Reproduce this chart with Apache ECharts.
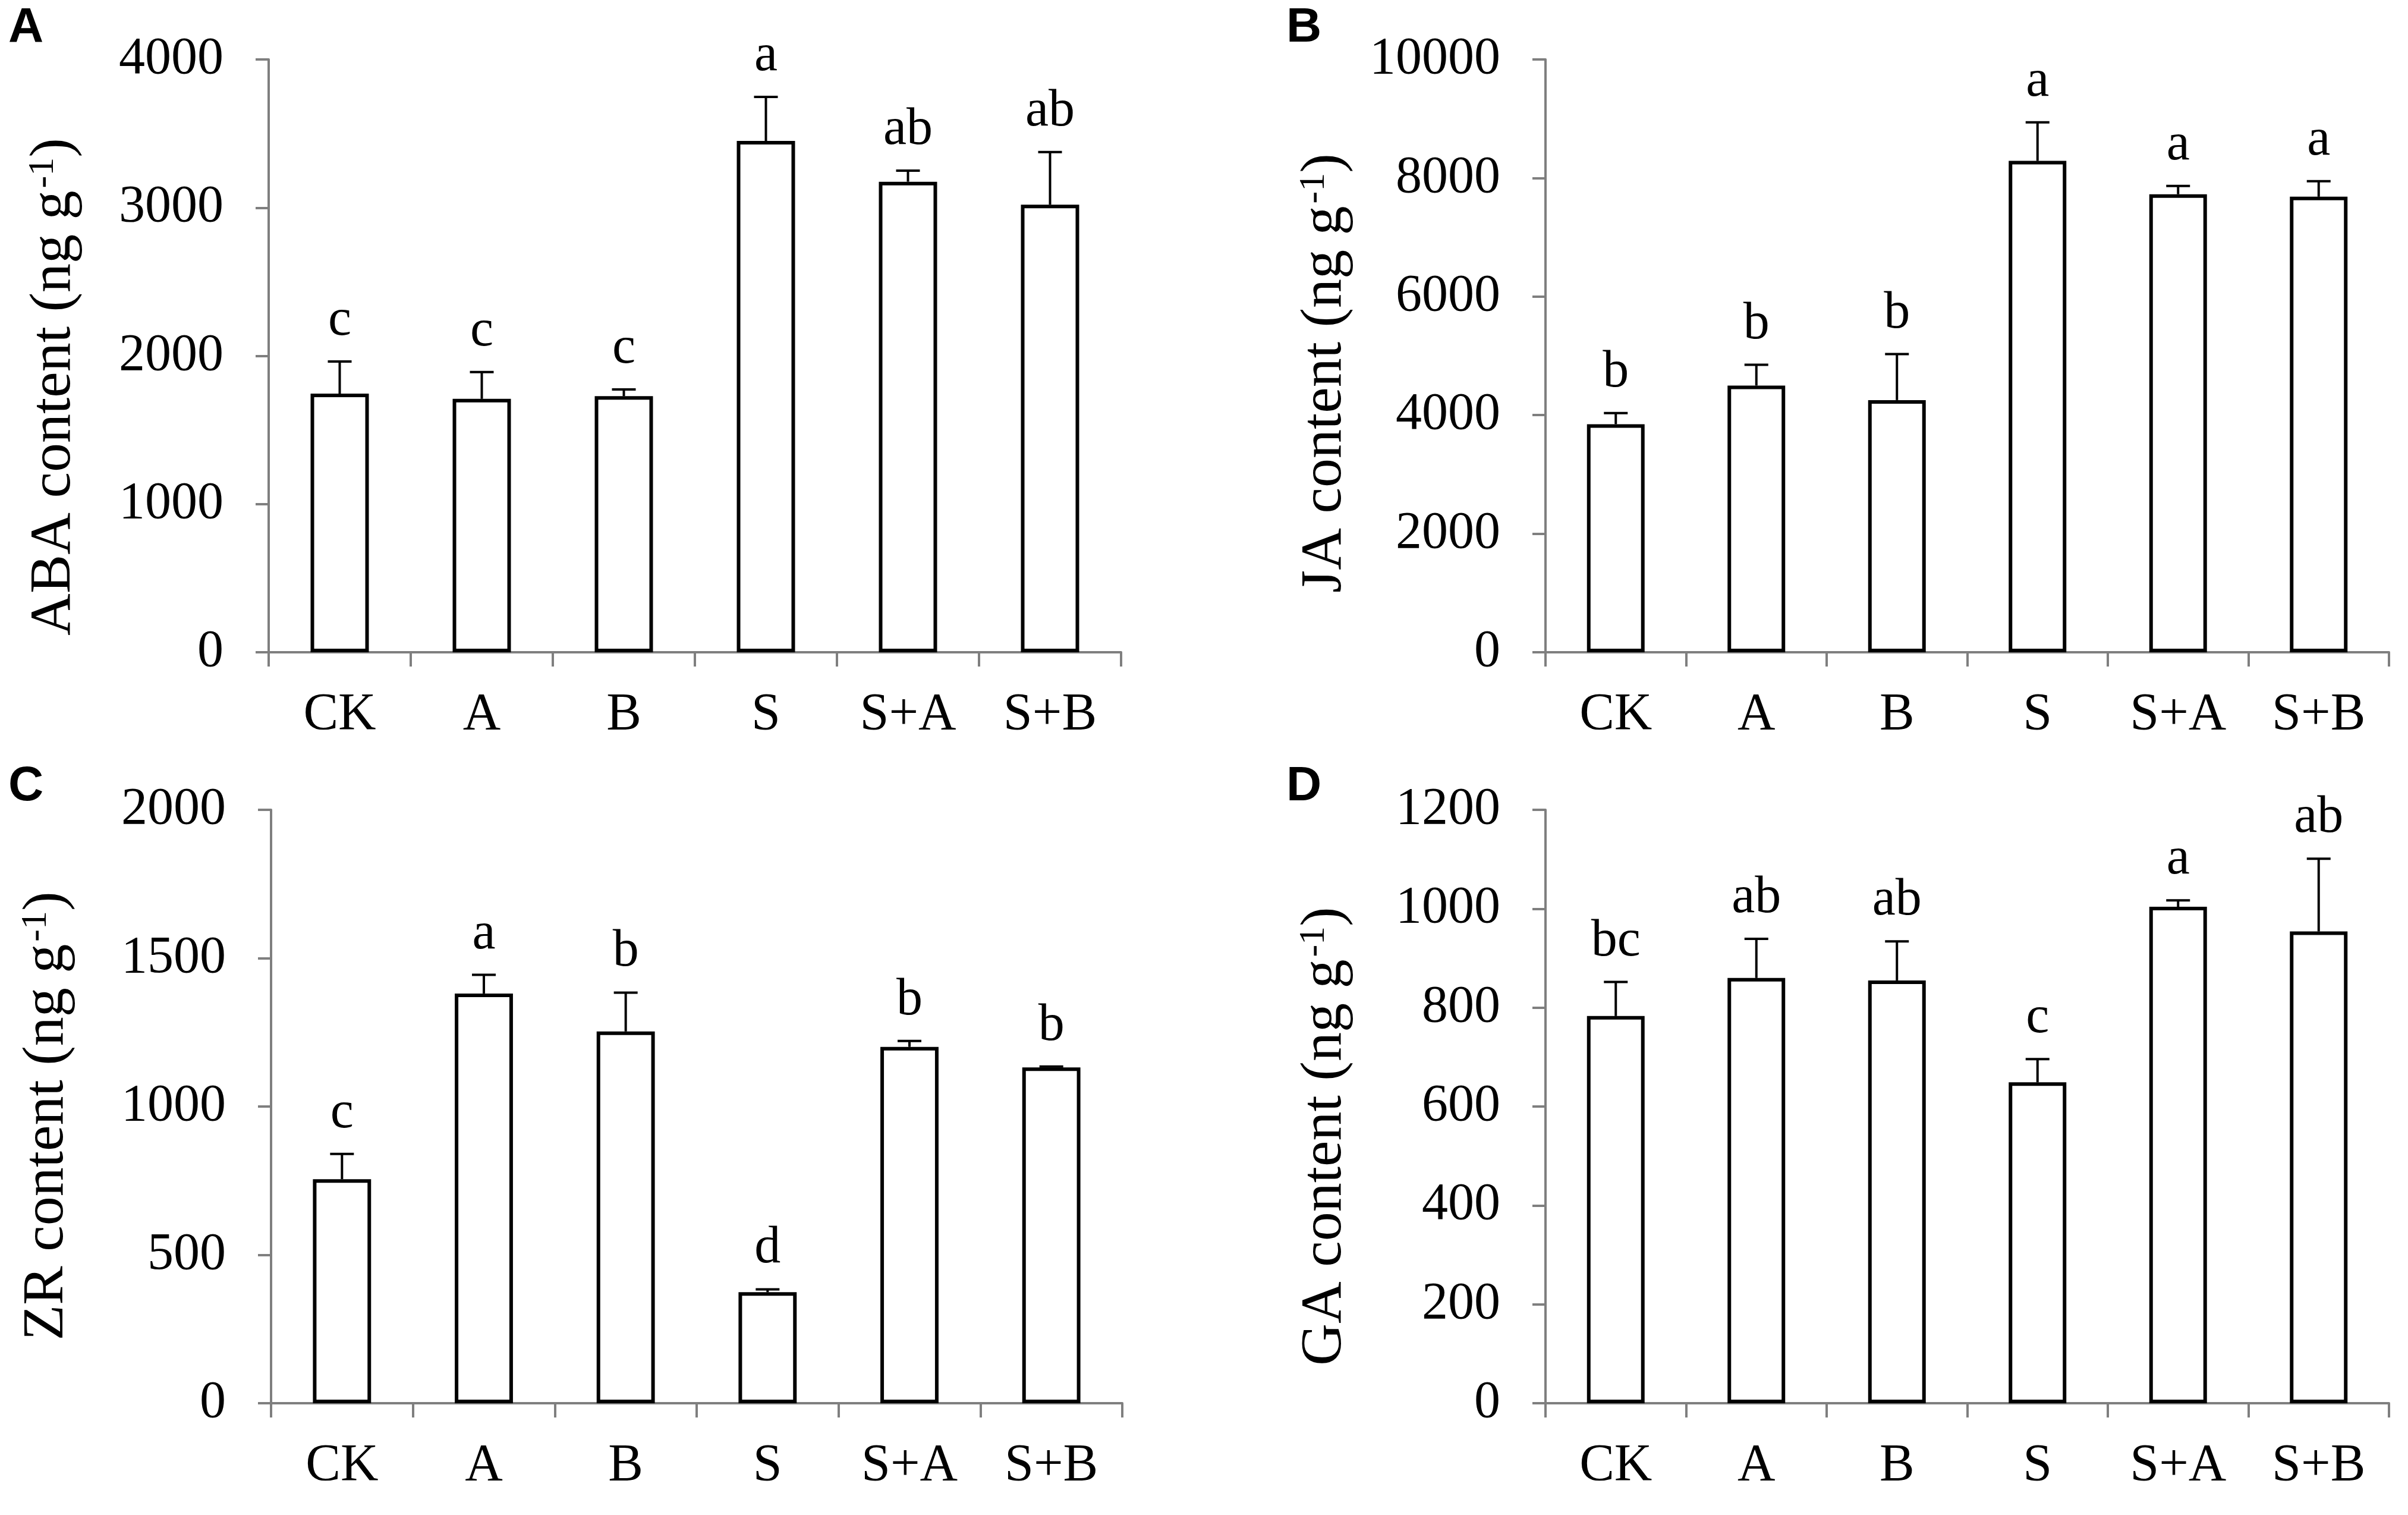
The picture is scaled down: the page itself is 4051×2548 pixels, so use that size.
<!DOCTYPE html>
<html>
<head>
<meta charset="utf-8">
<script src="https://cdn.jsdelivr.net/npm/echarts@6/dist/echarts.min.js"></script>
<style>
	html, body { margin: 0; padding: 0; background: #fff; }
	#main { width: 4051px; height: 2548px; }
</style>
</head>
<body>
<div id="main"></div>
<script>
// treatments
var categories = ['CK', 'A', 'B', 'S', 'S+A', 'S+B'];

// A: ABA
var abaMean = [1745, 1710, 1728, 3450, 3175, 3020];
var abaSd = [217, 181, 45, 297, 75, 355];
var abaLetters = ['c', 'c', 'c', 'a', 'ab', 'ab'];
// B: JA
var jaMean = [3847, 4499, 4254, 8289, 7726, 7685];
var jaSd = [187, 350, 775, 651, 139, 261];
var jaLetters = ['b', 'b', 'b', 'a', 'a', 'a'];
// C: ZR
var zrMean = [755, 1381, 1253, 374, 1201, 1132];
var zrSd = [85, 63, 131, 10, 20, 3];
var zrLetters = ['c', 'a', 'b', 'd', 'b', 'b'];
// D: GA
var gaMean = [783, 860, 855, 649, 1004, 954];
var gaSd = [69, 79, 79, 47, 13, 147];
var gaLetters = ['bc', 'ab', 'ab', 'c', 'a', 'ab'];

var serif = 'Liberation Serif';
var gray = '#7f7f7f';

var chart = echarts.init(document.getElementById('main'));

// shift = how far the axis title sits below the middle of the axis
var panels = [
	{ name: 'ABA', mean: abaMean, sd: abaSd, letters: abaLetters, max: 4000, interval: 1000,
		grid: { left: 452, top: 100, width: 1434, height: 997 }, gap: 312, shift: 52 },
	{ name: 'JA', mean: jaMean, sd: jaSd, letters: jaLetters, max: 10000, interval: 2000,
		grid: { left: 2600, top: 100, width: 1419, height: 997 }, gap: 322, shift: 29 },
	{ name: 'ZR', mean: zrMean, sd: zrSd, letters: zrLetters, max: 2000, interval: 500,
		grid: { left: 456, top: 1362, width: 1432, height: 998 }, gap: 328, shift: 16 },
	{ name: 'GA', mean: gaMean, sd: gaSd, letters: gaLetters, max: 1200, interval: 200,
		grid: { left: 2600, top: 1362, width: 1419, height: 998 }, gap: 322, shift: 50 }
];

function errRender(letters) {
	return function(params, api) {
		var i = api.value(0);
		var top = api.coord([i, api.value(1)]);
		var hi = api.coord([i, api.value(2)]);
		var x = top[0];
		return {
			type: 'group',
			children: [{
				type: 'line',
				shape: { x1: x, y1: top[1], x2: x, y2: hi[1] },
				style: { stroke: '#000', lineWidth: 4 }
			}, {
				type: 'line',
				shape: { x1: x - 20, y1: hi[1], x2: x + 20, y2: hi[1] },
				style: { stroke: '#000', lineWidth: 4 }
			}, {
				type: 'text',
				style: {
					text: letters[params.dataIndex],
					x: x,
					y: hi[1] - 24,
					align: 'center',
					verticalAlign: 'bottom',
					fontSize: 88,
					fontFamily: serif,
					fill: '#000'
				}
			}]
		};
	};
}

var grids = [], xAxes = [], yAxes = [], series = [];
for (var p = 0; p < panels.length; p++) {
	var pn = panels[p];
	var g = pn.grid;
	grids.push({ left: g.left, top: g.top, width: g.width, height: g.height, containLabel: false, outerBoundsMode: 'none' });
	xAxes.push({
		type: 'category',
		gridIndex: p,
		data: categories,
		boundaryGap: true,
		axisLine: { show: true, lineStyle: { color: gray, width: 4 } },
		axisTick: { show: true, length: 24, lineStyle: { color: gray, width: 4 } },
		axisLabel: { fontFamily: serif, fontSize: 88, color: '#000', margin: 62, interval: 0 },
		splitLine: { show: false }
	});
	yAxes.push({
		type: 'value',
		gridIndex: p,
		min: 0,
		max: pn.max,
		interval: pn.interval,
		name: pn.name + ' content (ng g{sup|-1})',
		nameLocation: 'middle',
		nameRotate: 90,
		nameGap: pn.gap,
		nameTextStyle: {
			fontFamily: serif,
			fontSize: 98,
			color: '#000',
			padding: [0, pn.shift * 2, 0, 0],
			rich: {
				sup: { fontFamily: serif, fontSize: 62, color: '#000', verticalAlign: 'top', padding: [0, 0, 34, 4] }
			}
		},
		axisLine: { show: true, lineStyle: { color: gray, width: 4 } },
		axisTick: { show: true, length: 22, lineStyle: { color: gray, width: 4 } },
		axisLabel: {
			fontFamily: serif, fontSize: 88, color: '#000', margin: 76,
			formatter: function(v) { return String(v); }
		},
		splitLine: { show: false }
	});
	series.push({
		type: 'bar',
		xAxisIndex: p,
		yAxisIndex: p,
		barWidth: '41%',
		data: pn.mean,
		itemStyle: { color: '#fff', borderColor: '#000', borderWidth: 6 },
		silent: true
	});
	var errData = [];
	for (var i = 0; i < categories.length; i++) {
		errData.push([i, pn.mean[i], pn.mean[i] + pn.sd[i]]);
	}
	series.push({
		type: 'custom',
		xAxisIndex: p,
		yAxisIndex: p,
		renderItem: errRender(pn.letters),
		encode: { x: 0, y: [1, 2] },
		data: errData,
		z: 5,
		silent: true
	});
}

var panelLetter = function(txt, x, y) {
	return {
		type: 'text',
		left: x,
		top: y,
		style: { text: txt, fontFamily: 'Liberation Sans', fontWeight: 'bold', fontSize: 82, fill: '#000' }
	};
};

chart.setOption({
	backgroundColor: '#fff',
	animation: false,
	grid: grids,
	xAxis: xAxes,
	yAxis: yAxes,
	series: series,
	graphic: [
		panelLetter('A', 14, 6),
		panelLetter('B', 2164, 6),
		panelLetter('C', 14, 1282),
		panelLetter('D', 2164, 1282)
	]
});
</script>
</body>
</html>
